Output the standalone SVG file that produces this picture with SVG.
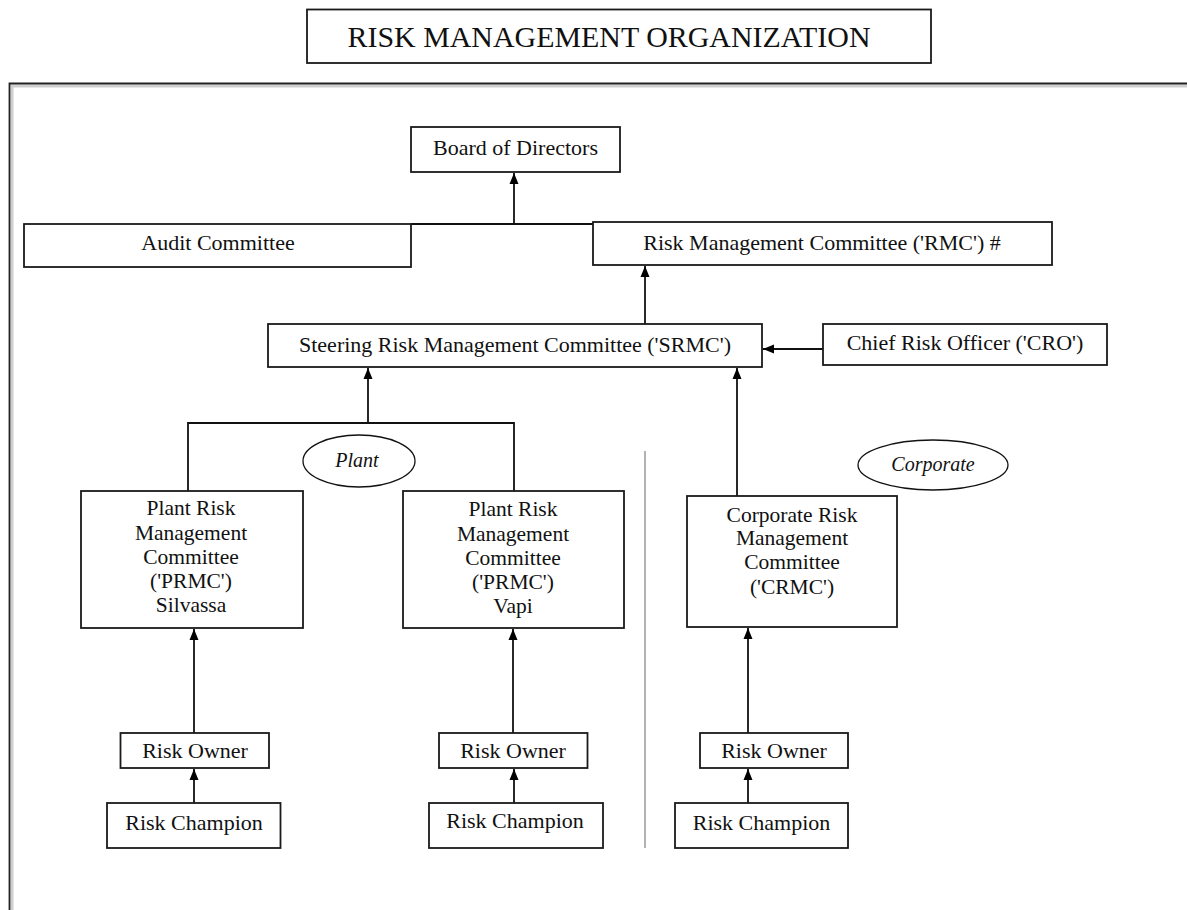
<svg xmlns="http://www.w3.org/2000/svg" width="1187" height="910" viewBox="0 0 1187 910">
<style>
.box{fill:#fff;stroke:#1a1a1a;stroke-width:1.8}
.t{font-family:"Liberation Serif","Times New Roman",serif;font-size:22px;fill:#111;text-anchor:middle}
.m{font-size:21.5px}
.it{font-family:"Liberation Serif","Times New Roman",serif;font-size:20px;font-style:italic;fill:#111;text-anchor:middle}
.ln{fill:none;stroke:#111;stroke-width:1.8}
.ell{fill:#fff;stroke:#111;stroke-width:1.3}
</style>
<defs>
<marker id="ah" markerUnits="userSpaceOnUse" markerWidth="12" markerHeight="12" viewBox="0 0 12 12" refX="11" refY="6" orient="auto">
<path d="M0,1.5 L11,6 L0,10.5 Z" fill="#000"/>
</marker>
</defs>
<rect width="1187" height="910" fill="#fff"/>
<g id="title">
<rect class="box" x="307" y="9.5" width="624" height="53.5"/>
<text class="t" x="609" y="47" style="font-size:30px" textLength="523" lengthAdjust="spacingAndGlyphs">RISK MANAGEMENT ORGANIZATION</text>
</g>
<g id="frame">
<path d="M12 912 V86 H1190" fill="none" stroke="#cfcfcf" stroke-width="3"/>
<path d="M9.5 912 V83.5 H1190" fill="none" stroke="#222" stroke-width="1.8"/>
</g>
<g id="connectors">
<path class="ln" d="M411 224 H593"/>
<line class="ln" x1="514" y1="224" x2="514" y2="173" marker-end="url(#ah)"/>
<line class="ln" x1="645" y1="324" x2="645" y2="266" marker-end="url(#ah)"/>
<line class="ln" x1="823" y1="349" x2="763" y2="349" marker-end="url(#ah)"/>
<path class="ln" d="M188 491 V423 H514 V491"/>
<line class="ln" x1="368" y1="423" x2="368" y2="368" marker-end="url(#ah)"/>
<line class="ln" x1="737" y1="496" x2="737" y2="368" marker-end="url(#ah)"/>
<line class="ln" x1="194" y1="733" x2="194" y2="629" marker-end="url(#ah)"/>
<line class="ln" x1="513" y1="733" x2="513" y2="629" marker-end="url(#ah)"/>
<line class="ln" x1="748" y1="733" x2="748" y2="628" marker-end="url(#ah)"/>
<line class="ln" x1="194" y1="803" x2="194" y2="769" marker-end="url(#ah)"/>
<line class="ln" x1="514" y1="803" x2="514" y2="769" marker-end="url(#ah)"/>
<line class="ln" x1="748" y1="803" x2="748" y2="769" marker-end="url(#ah)"/>
<line x1="645" y1="451" x2="645" y2="848" stroke="#999" stroke-width="1.5"/>
</g>
<g id="board">
<rect class="box" x="411" y="127" width="209" height="45"/>
<text class="t" x="515.5" y="155">Board of Directors</text>
</g>
<g id="audit">
<rect class="box" x="24" y="224" width="387" height="43"/>
<text class="t" x="218" y="250">Audit Committee</text>
</g>
<g id="rmc">
<rect class="box" x="593" y="222" width="459" height="43"/>
<text class="t" x="822" y="250">Risk Management Committee ('RMC') #</text>
</g>
<g id="srmc">
<rect class="box" x="268" y="324" width="494" height="43"/>
<text class="t" x="515" y="352">Steering Risk Management Committee ('SRMC')</text>
</g>
<g id="cro">
<rect class="box" x="823" y="324" width="284" height="41"/>
<text class="t" x="965" y="350">Chief Risk Officer ('CRO')</text>
</g>
<g id="plant-label">
<ellipse class="ell" cx="359" cy="461" rx="56" ry="26"/>
<text class="it" x="357" y="467">Plant</text>
</g>
<g id="corporate-label">
<ellipse class="ell" cx="933" cy="465" rx="75" ry="25"/>
<text class="it" x="933" y="471">Corporate</text>
</g>
<g id="prmc-silvassa">
<rect class="box" x="81" y="491" width="222" height="137"/>
<text class="t m" x="191" y="515">Plant Risk</text>
<text class="t m" x="191" y="540">Management</text>
<text class="t m" x="191" y="564">Committee</text>
<text class="t m" x="191" y="588">('PRMC')</text>
<text class="t m" x="191" y="612">Silvassa</text>
</g>
<g id="prmc-vapi">
<rect class="box" x="403" y="491" width="221" height="137"/>
<text class="t m" x="513" y="516">Plant Risk</text>
<text class="t m" x="513" y="541">Management</text>
<text class="t m" x="513" y="565">Committee</text>
<text class="t m" x="513" y="589">('PRMC')</text>
<text class="t m" x="513" y="613">Vapi</text>
</g>
<g id="crmc">
<rect class="box" x="687" y="496" width="210" height="131"/>
<text class="t m" x="792" y="522">Corporate Risk</text>
<text class="t m" x="792" y="545">Management</text>
<text class="t m" x="792" y="569">Committee</text>
<text class="t m" x="792" y="594">('CRMC')</text>
</g>
<g id="owner-silvassa">
<rect class="box" x="120.5" y="733" width="148.5" height="35"/>
<text class="t" x="195" y="758">Risk Owner</text>
</g>
<g id="owner-vapi">
<rect class="box" x="439" y="733" width="148.5" height="35"/>
<text class="t" x="513" y="758">Risk Owner</text>
</g>
<g id="owner-corporate">
<rect class="box" x="700" y="733" width="148" height="35"/>
<text class="t" x="774" y="758">Risk Owner</text>
</g>
<g id="champion-silvassa">
<rect class="box" x="107" y="803" width="173.5" height="45"/>
<text class="t" x="194" y="830">Risk Champion</text>
</g>
<g id="champion-vapi">
<rect class="box" x="429" y="803" width="174" height="45"/>
<text class="t" x="515" y="828">Risk Champion</text>
</g>
<g id="champion-corporate">
<rect class="box" x="675" y="803" width="173" height="45"/>
<text class="t" x="761.5" y="830">Risk Champion</text>
</g>
</svg>
